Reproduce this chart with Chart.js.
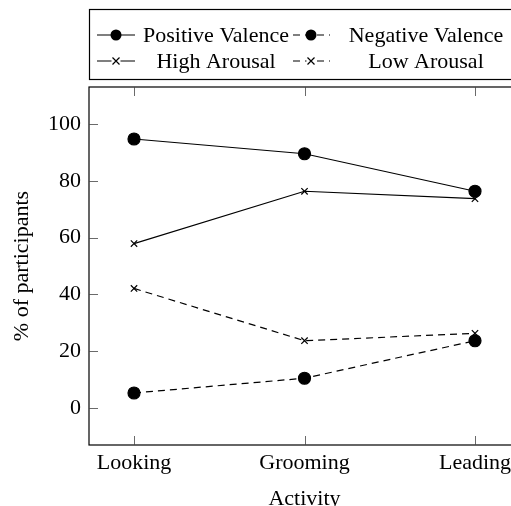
<!DOCTYPE html>
<html>
<head>
<meta charset="utf-8">
<script src="https://cdn.jsdelivr.net/npm/chart.js@4"></script>
<style>
  body { margin: 0; overflow: hidden; background: #fff; }
  #wrap { position: absolute; left: 0; top: 0; width: 540px; height: 520px; }
</style>
</head>
<body>
<div id="wrap"><canvas id="grafica" width="540" height="520"></canvas></div>
<script>
// categorias del eje x
const actividades = ["Looking", "Grooming", "Leading"];
// marcas del eje y
const marcasY = [0, 20, 40, 60, 80, 100];

// series (% de participantes)
const valenciaPositiva = [94.7, 89.5, 76.3];
const valenciaNegativa = [5.3, 10.5, 23.7];
const excitacionAlta = [57.9, 76.3, 73.7];
const excitacionBaja = [42.1, 23.7, 26.3];

const fuente = "'Liberation Serif', 'Times New Roman', serif";

function puntos(valores) {
    return valores.map((v, i) => ({x: i, y: v}));
}

function serie(label, valores, estilo, discontinua) {
    return {
        label: label,
        data: puntos(valores),
        borderColor: '#000',
        backgroundColor: '#000',
        borderWidth: 1.2,
        borderDash: discontinua ? [7, 5] : [],
        pointStyle: estilo,
        pointRadius: estilo === 'circle' ? 6 : 4.5,
        pointBorderWidth: 1.2,
        pointBackgroundColor: '#000',
        pointBorderColor: '#000',
        tension: 0,
        fill: false
    };
}

// dibuja el marco y las marcas hacia dentro, como pgfplots
const marco = {
    id: 'marco',
    afterDatasetsDraw(chart) {
        const {ctx, chartArea: a, scales} = chart;
        const largo = 9;
        ctx.save();
        ctx.strokeStyle = '#000';
        ctx.lineWidth = 1.2;
        ctx.strokeRect(a.left, a.top, a.right - a.left, a.bottom - a.top);
        ctx.lineWidth = 0.8;
        ctx.strokeStyle = '#444';
        ctx.beginPath();
        scales.x.ticks.forEach(t => {
            const px = Math.round(scales.x.getPixelForValue(t.value)) + 0.5;
            ctx.moveTo(px, a.bottom); ctx.lineTo(px, a.bottom - largo);
            ctx.moveTo(px, a.top); ctx.lineTo(px, a.top + largo);
        });
        scales.y.ticks.forEach(t => {
            const py = Math.round(scales.y.getPixelForValue(t.value)) + 0.5;
            ctx.moveTo(a.left, py); ctx.lineTo(a.left + largo, py);
            ctx.moveTo(a.right, py); ctx.lineTo(a.right - largo, py);
        });
        ctx.stroke();
        ctx.restore();
    }
};

// leyenda en caja, dos columnas
const leyenda = {
    id: 'leyenda',
    afterDraw(chart) {
        const ctx = chart.ctx;
        const cajaX = 89, cajaY = 9, cajaW = 440, cajaH = 70;
        const filas = [35, 61];
        const columnas = [
            {lineaIni: 97, lineaFin: 135, marca: 116, texto: 216},
            {lineaIni: 293, lineaFin: 330, marca: 311, texto: 426}
        ];
        ctx.save();
        ctx.fillStyle = '#fff';
        ctx.fillRect(cajaX, cajaY, cajaW, cajaH);
        ctx.strokeStyle = '#000';
        ctx.lineWidth = 1.2;
        ctx.strokeRect(cajaX + 0.5, cajaY + 0.5, cajaW, cajaH);
        chart.data.datasets.forEach((ds, i) => {
            const fila = filas[Math.floor(i / 2)];
            const col = columnas[i % 2];
            ctx.strokeStyle = '#000';
            ctx.lineWidth = 1.2;
            ctx.setLineDash(ds.borderDash);
            ctx.beginPath();
            ctx.moveTo(col.lineaIni, fila);
            ctx.lineTo(col.lineaFin, fila);
            ctx.stroke();
            ctx.setLineDash([]);
            if (ds.pointStyle === 'circle') {
                ctx.fillStyle = '#000';
                ctx.beginPath();
                ctx.arc(col.marca, fila, 5.5, 0, Math.PI * 2);
                ctx.fill();
            } else {
                const r = 3.5;
                ctx.fillStyle = '#fff';
                ctx.fillRect(col.marca - r - 1, fila - r - 1, 2 * r + 2, 2 * r + 2);
                ctx.beginPath();
                ctx.moveTo(col.marca - r, fila - r); ctx.lineTo(col.marca + r, fila + r);
                ctx.moveTo(col.marca - r, fila + r); ctx.lineTo(col.marca + r, fila - r);
                ctx.stroke();
            }
            ctx.fillStyle = '#000';
            ctx.font = "22px " + fuente;
            ctx.textAlign = 'center';
            ctx.textBaseline = 'middle';
            ctx.fillText(ds.label, col.texto, fila + 1);
        });
        ctx.restore();
    }
};

new Chart(document.getElementById('grafica'), {
    type: 'line',
    data: {
        datasets: [
            serie("Positive Valence", valenciaPositiva, 'circle', false),
            serie("Negative Valence", valenciaNegativa, 'circle', true),
            serie("High Arousal", excitacionAlta, 'crossRot', false),
            serie("Low Arousal", excitacionBaja, 'crossRot', true)
        ]
    },
    options: {
        responsive: false,
        animation: false,
        layout: { padding: { top: 87, right: 20, left: 0, bottom: 0 } },
        plugins: { legend: { display: false }, tooltip: { enabled: false } },
        scales: {
            x: {
                type: 'linear',
                min: -0.264,
                max: 2.264,
                afterBuildTicks: s => { s.ticks = actividades.map((_, i) => ({value: i})); },
                afterFit: s => { s.height = 75; },
                grid: { display: false, drawTicks: false, tickLength: 0 },
                border: { display: false },
                ticks: {
                    color: '#000',
                    padding: 5,
                    maxRotation: 0,
                    font: { family: fuente, size: 22 },
                    callback: v => actividades[v]
                },
                title: {
                    display: true,
                    text: 'Activity',
                    color: '#000',
                    font: { family: fuente, size: 22 },
                    padding: { top: 0, bottom: 8 }
                }
            },
            y: {
                min: -13,
                max: 113,
                afterBuildTicks: s => { s.ticks = marcasY.map(v => ({value: v})); },
                afterFit: s => { s.width = 89; },
                grid: { display: false, drawTicks: false, tickLength: 0 },
                border: { display: false },
                ticks: {
                    color: '#000',
                    padding: 8,
                    font: { family: fuente, size: 22 }
                },
                title: {
                    display: true,
                    text: '% of participants',
                    color: '#000',
                    font: { family: fuente, size: 22 },
                    padding: { top: 9, bottom: 0 }
                }
            }
        }
    },
    plugins: [marco, leyenda]
});
</script>
</body>
</html>
